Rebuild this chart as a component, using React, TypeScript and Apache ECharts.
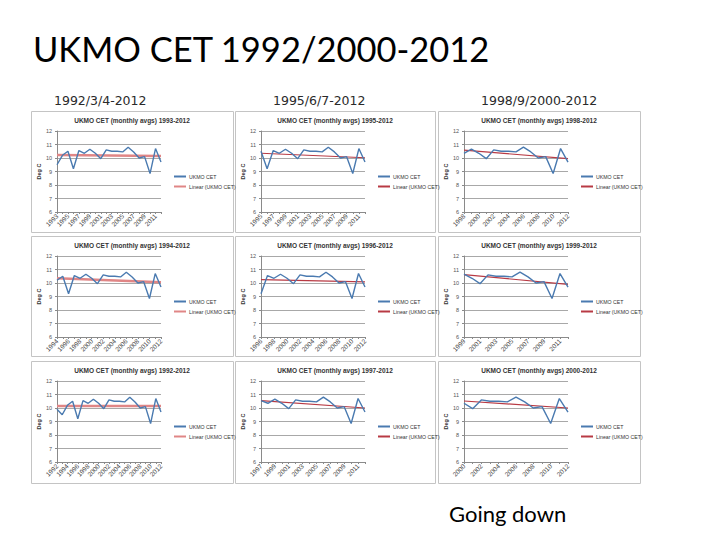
import React, { useEffect, useRef } from "react";
import * as echarts from "echarts";

// ---- data ----
const YEARS = [
  "1992", "1993", "1994", "1995", "1996", "1997", "1998", "1999", "2000", "2001", "2002",
  "2003", "2004", "2005", "2006", "2007", "2008", "2009", "2010", "2011", "2012",
];
const CET = [
  9.9, 9.5, 10.2, 10.5, 9.2, 10.55, 10.35, 10.65, 10.35, 9.95, 10.6,
  10.5, 10.5, 10.45, 10.8, 10.45, 10.0, 10.1, 8.85, 10.7, 9.7,
];
// panels in reading order (row by row)
const PANEL_FIRST_YEAR = ["1993", "1995", "1998", "1994", "1996", "1999", "1992", "1997", "2000"];
const TREND_START = [10.22, 10.35, 10.58, 10.35, 10.25, 10.62, 10.15, 10.55, 10.52];
const TREND_END = [10.15, 10.02, 9.95, 10.05, 10.08, 9.9, 10.15, 10.0, 10.0];
const COLUMN_HEADERS = ["1992/3/4-2012", "1995/6/7-2012", "1998/9/2000-2012"];
const Y_MIN = 6;
const Y_MAX = 12;
const Y_STEP = 1;
const MAIN_TITLE = "UKMO CET 1992/2000-2012";
const NOTE = "Going down";
const SERIES_NAME = "UKMO CET";
const TREND_NAME = "Linear (UKMO CET)";
const LAST_YEAR = "2012";

// ---- layout ----
const COL_X = [
  [31, 233],
  [235, 435],
  [438, 640],
];
const ROW_Y = [
  [111, 232],
  [236, 356],
  [361, 483],
];
const HEADER_X = [54, 273, 481];

export default function App() {
  const ref = useRef<HTMLDivElement>(null);

  useEffect(() => {
    if (!ref.current) return;
    const chart = echarts.init(ref.current, undefined, { renderer: "svg" });

    const grids: any[] = [];
    const xAxes: any[] = [];
    const yAxes: any[] = [];
    const series: any[] = [];
    const legends: any[] = [];
    const graphics: any[] = [];

    graphics.push({
      type: "text",
      x: 33,
      y: 48,
      style: {
        text: MAIN_TITLE,
        font: "34.5px Lato",
        fill: "#000",
        verticalAlign: "middle",
        align: "left",
      },
    });
    COLUMN_HEADERS.forEach((h, c) => {
      graphics.push({
        type: "text",
        x: HEADER_X[c],
        y: 100,
        style: {
          text: h,
          font: "12.5px 'DejaVu Sans'",
          fill: "#2a2a2a",
          verticalAlign: "middle",
          align: "left",
        },
      });
    });
    graphics.push({
      type: "text",
      x: 449,
      y: 513,
      style: {
        text: NOTE,
        font: "22px Lato",
        fill: "#000",
        verticalAlign: "middle",
        align: "left",
      },
    });

    PANEL_FIRST_YEAR.forEach((first, i) => {
      const r = Math.floor(i / 3);
      const c = i % 3;
      const [x0, x1] = COL_X[c];
      const [y0, y1] = ROW_Y[r];
      const startIdx = YEARS.indexOf(first);
      const years = YEARS.slice(startIdx);
      const values = CET.slice(startIdx);
      const trendColor = c === 0 ? "#e08686" : "#b83a44";
      const trendWidth = c === 0 ? 2.5 : 1.2;

      graphics.push({
        type: "rect",
        shape: { x: x0 + 0.5, y: y0 + 0.5, width: x1 - x0, height: y1 - y0 },
        style: { fill: "none", stroke: "#c4c4c4", lineWidth: 1 },
      });
      graphics.push({
        type: "text",
        x: (x0 + x1) / 2,
        y: y0 + 9,
        style: {
          text: `UKMO CET (monthly avgs) ${first}-${LAST_YEAR}`,
          font: "bold 6.5px 'Liberation Sans'",
          fill: "#333",
          align: "center",
          verticalAlign: "middle",
        },
      });

      grids.push({
        left: x0 + 26,
        top: y0 + 20,
        width: 104,
        height: 81,
      });
      xAxes.push({
        gridIndex: i,
        type: "category",
        data: years,
        boundaryGap: false,
        axisLine: { lineStyle: { color: "#8a8a8a", width: 1 } },
        axisTick: { interval: 0, length: 2, lineStyle: { color: "#8a8a8a" } },
        axisLabel: {
          interval: 1,
          rotate: 45,
          fontSize: 6.5,
          color: "#444",
          margin: 3,
          fontFamily: "Liberation Sans",
        },
      });
      yAxes.push({
        gridIndex: i,
        type: "value",
        min: Y_MIN,
        max: Y_MAX,
        interval: Y_STEP,
        name: "Deg C",
        nameLocation: "middle",
        nameRotate: 90,
        nameGap: 14,
        nameTextStyle: {
          fontSize: 5.5,
          fontWeight: "bold",
          color: "#333",
          fontFamily: "Liberation Sans",
        },
        axisLine: { show: true, lineStyle: { color: "#8a8a8a", width: 1 } },
        axisTick: { show: true, length: 2, lineStyle: { color: "#8a8a8a" } },
        axisLabel: { fontSize: 5.5, color: "#555", margin: 5, fontFamily: "Liberation Sans" },
        splitLine: { lineStyle: { color: "#a8a8a8", width: 1 } },
      });
      series.push({
        type: "line",
        name: SERIES_NAME,
        xAxisIndex: i,
        yAxisIndex: i,
        data: values,
        symbol: "none",
        lineStyle: { color: "#4a7ab0", width: 1.4 },
        itemStyle: { color: "#4a7ab0" },
        z: 3,
      });
      series.push({
        type: "line",
        name: TREND_NAME,
        xAxisIndex: i,
        yAxisIndex: i,
        data: [
          [years[0], TREND_START[i]],
          [years[years.length - 1], TREND_END[i]],
        ],
        symbol: "none",
        lineStyle: { color: trendColor, width: trendWidth },
        itemStyle: { color: trendColor },
        z: 2,
      });
      legends.push({
        left: x0 + 138,
        top: y0 + 58,
        orient: "vertical",
        itemGap: 5,
        itemWidth: 12,
        itemHeight: 2,
        selectedMode: false,
        textStyle: { fontSize: 5.2, color: "#333", fontFamily: "Liberation Sans", padding: [0, 0, 0, -2] },
        data: [
          { name: SERIES_NAME, icon: "rect", itemStyle: { color: "#4a7ab0" } },
          { name: TREND_NAME, icon: "rect", itemStyle: { color: trendColor } },
        ],
      });
    });

    chart.setOption({
      animation: false,
      backgroundColor: "#fff",
      grid: grids,
      xAxis: xAxes,
      yAxis: yAxes,
      series,
      legend: legends,
      graphic: graphics,
    });

    return () => chart.dispose();
  }, []);

  return (
    <div
      ref={ref}
      style={{ position: "fixed", left: 0, top: 0, width: 720, height: 540, background: "#fff" }}
    />
  );
}
